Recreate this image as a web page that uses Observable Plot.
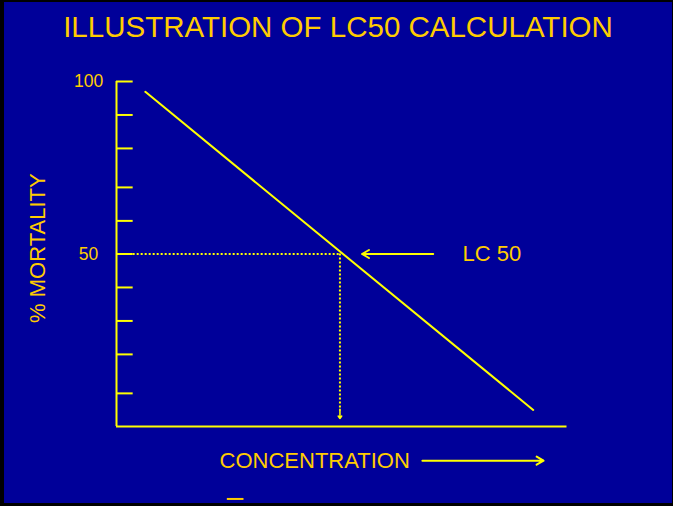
<!DOCTYPE html>
<html>
<head>
<meta charset="utf-8">
<script src="https://cdn.jsdelivr.net/npm/d3@7"></script>
<script src="https://cdn.jsdelivr.net/npm/@observablehq/plot@0.6"></script>
<style>
  html, body { margin: 0; padding: 0; background: #000; width: 673px; height: 506px; overflow: hidden; }
  #frame { position: absolute; left: 4px; top: 2px; width: 668px; height: 501px; background: #000099; }
  #title { height: 50px; box-sizing: border-box; padding-top: 10px; line-height: 1; text-align: center;
           font-family: "Liberation Sans", Arial, sans-serif; font-size: 29.5px; color: #FFCC00; white-space: nowrap; }
  #chart svg { display: block; }
</style>
</head>
<body>
<div id="frame">
  <div id="title">ILLUSTRATION OF LC50 CALCULATION</div>
  <div id="chart"></div>
</div>
<script>
// ---- data ----
const titleText = "ILLUSTRATION OF LC50 CALCULATION";
const yAxisLabel = "% MORTALITY";
const xAxisLabel = "CONCENTRATION";
const lcLabel = "LC 50";
// mortality tick positions (unlabelled ticks included)
const mortalityTicks = [100, 90.3, 80.6, 69.3, 59.6, 50, 40.3, 30.6, 20.9, 9.6];
const labelledTicks = [100, 50];
// dose-response line (concentration, % mortality)
const lineConc = [6.4, 92.5];
const lineMort = [97, 4.8];
// LC50 point
const lc50Conc = 49.6;
const lc50Mort = 50;

const lineData = lineConc.map((c, i) => ({c, m: lineMort[i]}));

const yellow = "#FFFF00";
const gold = "#FFCC00";
const font = "Liberation Sans, Arial, sans-serif";

const chart = Plot.plot({
  width: 668,
  height: 451,
  marginLeft: 112,
  marginRight: 105.5,
  marginTop: 29,
  marginBottom: 77,
  x: {domain: [0, 100], axis: null},
  y: {domain: [0, 100], axis: null},
  style: {background: "transparent", overflow: "visible", fontFamily: font},
  marks: [
    // axes
    Plot.ruleX([0], {y1: 0, y2: 100, stroke: yellow, strokeWidth: 2}),
    Plot.ruleY([0], {x1: 0, x2: 100, stroke: yellow, strokeWidth: 2}),
    Plot.ruleY(mortalityTicks, {y: d => d, x1: 0, x2: 3.7, stroke: yellow, strokeWidth: 2}),
    Plot.text(labelledTicks, {y: d => d, x: -6.2, text: d => String(d), fill: gold, fontSize: 17.5, textAnchor: "middle"}),
    Plot.text([yAxisLabel], {x: -17.5, y: 51.7, text: d => d, rotate: -90, fill: gold, fontSize: 22, textAnchor: "middle"}),
    // dotted guide lines
    Plot.ruleY([lc50Mort], {x1: 3.7, x2: lc50Conc, stroke: yellow, strokeWidth: 2, strokeDasharray: "2,2"}),
    Plot.ruleX([lc50Conc], {y1: lc50Mort, y2: 4.5, stroke: yellow, strokeWidth: 2, strokeDasharray: "2,2"}),
    Plot.arrow([{c: lc50Conc}], {x1: "c", x2: "c", y1: 5, y2: 2.3, stroke: yellow, strokeWidth: 1.5, headLength: 6, headAngle: 70}),
    // main line
    Plot.line(lineData, {x: "c", y: "m", stroke: yellow, strokeWidth: 2}),
    // LC50 arrow and label
    Plot.arrow([{x1: 70.3, x2: 54.5, y: lc50Mort}], {x1: "x1", x2: "x2", y1: "y", y2: "y", stroke: yellow, strokeWidth: 2, headLength: 6, headAngle: 60}),
    Plot.text([lcLabel], {x: 83.3, y: lc50Mort, text: d => d, fill: gold, fontSize: 22, textAnchor: "middle"}),
    // x label and arrow
    Plot.text([xAxisLabel], {x: 44, y: -9.9, text: d => d, fill: gold, fontSize: 22, textAnchor: "middle"}),
    Plot.arrow([{x1: 67.9, x2: 94.8, y: -9.9}], {x1: "x1", x2: "x2", y1: "y", y2: "y", stroke: yellow, strokeWidth: 2, headLength: 6, headAngle: 60}),
    // small dash artifact at bottom
    Plot.ruleY([-21], {x1: 24.6, x2: 28.3, stroke: gold, strokeWidth: 2})
  ]
});
document.getElementById("chart").appendChild(chart);
</script>
</body>
</html>
